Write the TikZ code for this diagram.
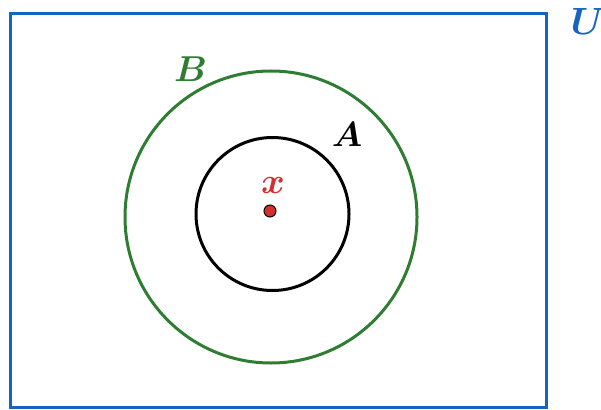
\documentclass[tikz,border=0pt]{standalone}
\usepackage{graphicx}
\usepackage{amsmath,bm}
\definecolor{ublue}{HTML}{1565C0}
\definecolor{bgreen}{HTML}{2E7D32}
\definecolor{xred}{HTML}{D32F2F}
\newcommand{\biglbl}[2]{\scalebox{#1}{$\bm{#2}$}}
\begin{document}
\begin{tikzpicture}[x=1pt,y=-1pt,
  lbl/.style={inner sep=0pt}]
\useasboundingbox (0,0) rectangle (601,409);
\draw[ublue,line width=3pt] (10,14) rectangle (546,407);
\node[lbl,text=ublue] (U) at (588,21) {\biglbl{3.8}{U}};
\draw[bgreen,line width=3pt] (271,217) circle (146);
\node[lbl,text=bgreen] (B) at (190.5,69) {\biglbl{3.6}{B}};
\draw[black,line width=3pt] (272.5,214) circle (76.5);
\node[lbl] (A) at (347,134) {\biglbl{3.5}{A}};
\node[circle,draw=black,fill=xred,line width=1pt,minimum size=12pt,inner sep=0pt] (p) at (270,211) {};
\node[lbl,text=xred] (x) at (273,185) {\biglbl{3.6}{x}};
\end{tikzpicture}
\end{document}
